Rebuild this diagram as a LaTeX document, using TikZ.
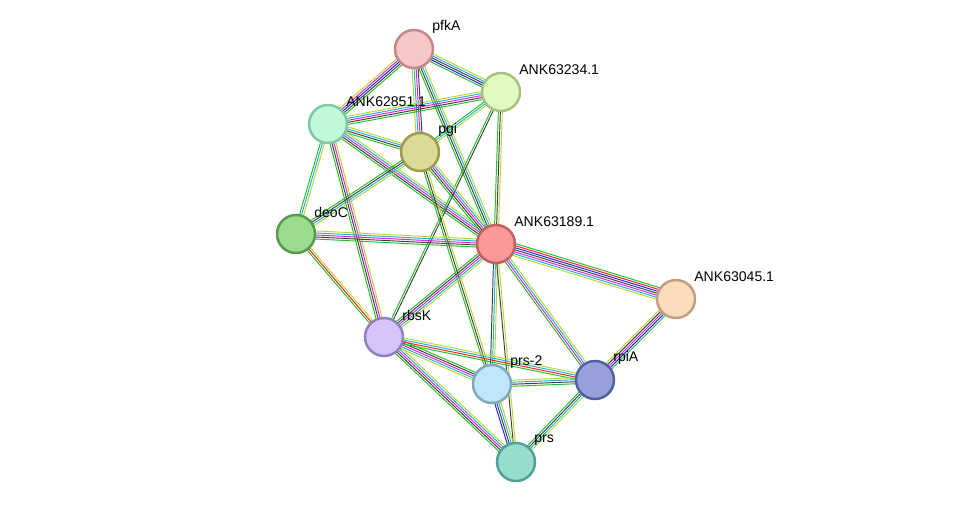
\documentclass[tikz,border=0pt]{standalone}
\usepackage{fontspec}
\setmainfont{Liberation Sans}
\usetikzlibrary{calc,backgrounds}
\definecolor{eG}{HTML}{22C022}
\definecolor{eK}{HTML}{404040}
\definecolor{eB}{HTML}{2020F0}
\definecolor{eM}{HTML}{E020E0}
\definecolor{eC}{HTML}{20B0E0}
\definecolor{eY}{HTML}{B8D830}
\definecolor{eR}{HTML}{F02020}
\tikzstyle{protein}=[circle, minimum size=0.76cm, inner sep=0pt, line width=1.4pt]
\tikzstyle{lbl}=[anchor=west, inner sep=0pt, font=\fontsize{8}{9}\selectfont]
\newcommand\linkedge[4]{%
  \foreach \c [count=\i] in {#4} {
    \pgfmathsetmacro\off{(\i-(#3+1)/2)*1.15}
    \draw[\c, line width=0.55pt] ($(#1)!\off pt!90:(#2)$) -- ($(#2)!\off pt!-90:(#1)$);
  }}

\begin{document}
\begin{tikzpicture}[x=0.02cm, y=-0.02cm]
        \useasboundingbox (0,0) rectangle (976,507);
        \node (pfkA) [protein, fill={rgb,255:red,247;green,198;blue,198}, draw={rgb,255:red,192;green,136;blue,136}] at (414,49) {};
        \node (A234) [protein, fill={rgb,255:red,224;green,251;blue,192}, draw={rgb,255:red,168;green,192;blue,128}] at (501,92) {};
        \node (A851) [protein, fill={rgb,255:red,192;green,248;blue,216}, draw={rgb,255:red,128;green,200;blue,160}] at (328,124) {};
        \node (pgi) [protein, fill={rgb,255:red,220;green,218;blue,150}, draw={rgb,255:red,160;green,154;blue,80}] at (420,152) {};
        \node (deoC) [protein, fill={rgb,255:red,156;green,220;blue,144}, draw={rgb,255:red,90;green,154;blue,80}] at (296,234) {};
        \node (A189) [protein, fill={rgb,255:red,248;green,152;blue,152}, draw={rgb,255:red,192;green,96;blue,96}] at (496,244) {};
        \node (A045) [protein, fill={rgb,255:red,252;green,220;blue,188}, draw={rgb,255:red,192;green,160;blue,128}] at (676,299) {};
        \node (rbsK) [protein, fill={rgb,255:red,212;green,196;blue,250}, draw={rgb,255:red,144;green,128;blue,192}] at (384,337) {};
        \node (prs2) [protein, fill={rgb,255:red,192;green,230;blue,250}, draw={rgb,255:red,128;green,168;blue,192}] at (492,384) {};
        \node (rpiA) [protein, fill={rgb,255:red,152;green,160;blue,220}, draw={rgb,255:red,80;green,96;blue,160}] at (595,380) {};
        \node (prs) [protein, fill={rgb,255:red,152;green,220;blue,208}, draw={rgb,255:red,80;green,160;blue,152}] at (516,462) {};

        \node (pfkA-l) [lbl] at ($(pfkA)+(18,-22)$) {pfkA};
        \node (A234-l) [lbl] at ($(A234)+(18,-22)$) {ANK63234.1};
        \node (A851-l) [lbl] at ($(A851)+(18,-22)$) {ANK62851.1};
        \node (pgi-l) [lbl] at ($(pgi)+(18,-22)$) {pgi};
        \node (deoC-l) [lbl] at ($(deoC)+(18,-22)$) {deoC};
        \node (A189-l) [lbl] at ($(A189)+(18,-22)$) {ANK63189.1};
        \node (A045-l) [lbl] at ($(A045)+(18,-22)$) {ANK63045.1};
        \node (rbsK-l) [lbl] at ($(rbsK)+(18,-22)$) {rbsK};
        \node (prs2-l) [lbl] at ($(prs2)+(18,-22)$) {prs-2};
        \node (rpiA-l) [lbl] at ($(rpiA)+(18,-22)$) {rpiA};
        \node (prs-l) [lbl] at ($(prs)+(18,-22)$) {prs};

        \begin{pgfonlayer}{background}
          \linkedge{pfkA}{A234}{5}{eG,eB,eK,eC,eY}
          \linkedge{pfkA}{A851}{5}{eY,eM,eB,eK,eG}
          \linkedge{pfkA}{pgi}{4}{eY,eC,eM,eK}
          \linkedge{pfkA}{A189}{4}{eG,eK,eC,eY}
          \linkedge{A851}{A234}{5}{eG,eK,eM,eC,eY}
          \linkedge{A851}{pgi}{4}{eG,eK,eC,eY}
          \linkedge{A851}{A189}{5}{eG,eK,eM,eC,eY}
          \linkedge{A851}{deoC}{3}{eG,eC,eY}
          \linkedge{A851}{rbsK}{4}{eG,eK,eM,eY}
          \linkedge{A234}{pgi}{3}{eG,eC,eY}
          \linkedge{A234}{A189}{3}{eG,eK,eY}
          \linkedge{A234}{rbsK}{2}{eG,eK}
          \linkedge{pgi}{deoC}{4}{eG,eK,eC,eY}
          \linkedge{pgi}{A189}{5}{eG,eK,eM,eC,eY}
          \linkedge{pgi}{prs2}{3}{eG,eK,eY}
          \linkedge{deoC}{A189}{5}{eG,eK,eM,eC,eY}
          \linkedge{deoC}{rbsK}{3}{eG,eR,eY}
          \linkedge{A189}{A045}{7}{eY,eC,eM,eK,eB,eR,eG}
          \linkedge{A189}{rbsK}{5}{eG,eK,eM,eC,eY}
          \linkedge{A189}{prs2}{3}{eK,eC,eY}
          \linkedge{A189}{rpiA}{4}{eG,eM,eC,eY}
          \linkedge{A189}{prs}{2}{eK,eY}
          \linkedge{rbsK}{prs2}{5}{eY,eC,eM,eK,eG}
          \linkedge{rbsK}{rpiA}{4}{eG,eR,eC,eY}
          \linkedge{rbsK}{prs}{5}{eG,eK,eM,eC,eY}
          \linkedge{prs2}{rpiA}{4}{eG,eK,eC,eY}
          \linkedge{prs2}{prs}{4}{eB,eK,eC,eY}
          \linkedge{rpiA}{prs}{4}{eG,eK,eC,eY}
          \linkedge{rpiA}{A045}{5}{eG,eB,eM,eK,eY}
        \end{pgfonlayer}
      \end{tikzpicture}
\end{document}
